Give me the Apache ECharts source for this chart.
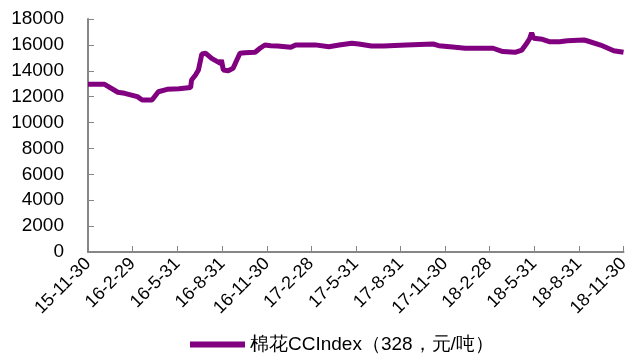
<!DOCTYPE html>
<html>
<head>
<meta charset="utf-8">
<script src="https://cdn.jsdelivr.net/npm/echarts@6/dist/echarts.min.js"></script>
<style>html,body{margin:0;padding:0;background:#fff}#c{width:632px;height:354px}</style>
</head>
<body>
<div id="c"></div>
<script>
var seriesName = '棉花CCIndex（328，元/吨）';
var dates = ['2015-11-30','2016-01-03','2016-01-30','2016-02-13','2016-03-10','2016-03-20','2016-04-09','2016-04-22','2016-05-10','2016-06-03','2016-06-27','2016-06-29','2016-07-07','2016-07-13','2016-07-20','2016-07-28','2016-08-09','2016-08-27','2016-08-29','2016-09-02','2016-09-12','2016-09-22','2016-09-28','2016-10-06','2016-10-16','2016-11-06','2016-11-16','2016-11-26','2016-12-08','2016-12-22','2016-12-26','2017-01-18','2017-01-28','2017-03-09','2017-04-06','2017-04-27','2017-05-23','2017-06-06','2017-07-02','2017-07-27','2017-09-11','2017-11-05','2017-11-17','2017-12-21','2018-01-10','2018-01-27','2018-03-08','2018-03-28','2018-04-22','2018-05-06','2018-05-16','2018-05-22','2018-05-26','2018-05-30','2018-06-17','2018-07-01','2018-07-22','2018-08-07','2018-09-10','2018-09-16','2018-10-14','2018-11-10','2018-11-30'];
var values = [12950,12950,12340,12260,12000,11740,11740,12380,12570,12620,12700,13290,13670,14060,15300,15350,14960,14575,14830,14060,14000,14190,14700,15350,15400,15430,15740,15990,15940,15910,15810,15810,15990,16000,15860,15990,16120,16070,15910,15910,15990,16070,15940,15810,15740,15740,15740,15480,15430,15600,16120,16500,16940,16510,16430,16250,16250,16320,16380,16320,15990,15550,15430];
var tickDates = ['2015-11-30','2016-02-29','2016-05-31','2016-08-31','2016-11-30','2017-02-28','2017-05-31','2017-08-31','2017-11-30','2018-02-28','2018-05-31','2018-08-31','2018-11-30'];
var tickLabels = ['15-11-30','16-2-29','16-5-31','16-8-31','16-11-30','17-2-28','17-5-31','17-8-31','17-11-30','18-2-28','18-5-31','18-8-31','18-11-30'];

function toTs(s){var p=s.split('-');return Date.UTC(+p[0],+p[1]-1,+p[2]);}
var tickTs = tickDates.map(toTs);
var data = dates.map(function(d,i){return [toTs(d), values[i]];});

var chart = echarts.init(document.getElementById('c'));
var FONT = 'Liberation Sans, Arial, sans-serif';
chart.setOption({
  animation:false,
  grid:{left:88,right:2,top:19,bottom:102,containLabel:false},
  legend:{
    data:[seriesName], bottom:-5, left:185, icon:'rect', itemWidth:55, itemHeight:6, itemGap:5,
    textStyle:{fontSize:19,color:'#000',fontFamily:FONT}
  },
  xAxis:{
    type:'value', min:tickTs[0], max:tickTs[tickTs.length-1],
    axisLine:{lineStyle:{color:'#868686',width:2}},
    axisTick:{show:true,inside:true,length:6,customValues:tickTs,lineStyle:{color:'#868686',width:1}},
    splitLine:{show:false},
    axisLabel:{
      customValues:tickTs, rotate:45, margin:9, fontSize:18, color:'#000', fontFamily:FONT,
      formatter:function(v){var i=tickTs.indexOf(v);return i>=0?tickLabels[i]:'';}
    }
  },
  yAxis:{
    type:'value', min:0, max:18000, interval:2000,
    axisLine:{show:true,lineStyle:{color:'#868686',width:2}},
    axisTick:{show:true,inside:true,length:6,lineStyle:{color:'#868686',width:1}},
    splitLine:{show:false},
    axisLabel:{margin:24,fontSize:19,color:'#000',fontFamily:FONT,formatter:function(v){return String(v);}}
  },
  series:[{
    name:seriesName, type:'line', data:data, showSymbol:false, symbol:'none',
    lineStyle:{color:'#800080',width:5}, itemStyle:{color:'#800080'}
  }]
});
</script>
</body>
</html>
